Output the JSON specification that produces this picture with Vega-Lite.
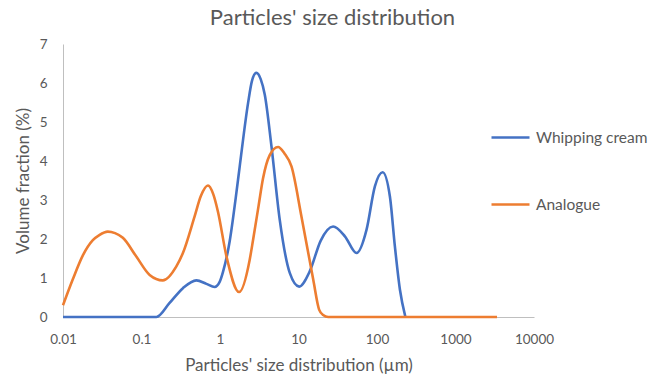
{
  "$schema": "https://vega.github.io/schema/vega-lite/v6.json",
  "autosize": "none",
  "width": 471,
  "height": 273,
  "padding": {"left": 63, "top": 44, "right": 124, "bottom": 60},
  "background": "white",
  "config": {"view": {"stroke": null}, "font": "Lato"},
  "title": {"text": "Particles' size distribution", "fontSize": 22, "fontWeight": "normal", "color": "#595959", "font": "Lato", "anchor": "middle", "frame": "group", "dx": 34, "offset": 7},
  "data": {"values": [
    {"size": 0.01, "v": 0, "s": "Whipping cream"},
    {"size": 0.02, "v": 0, "s": "Whipping cream"},
    {"size": 0.05, "v": 0, "s": "Whipping cream"},
    {"size": 0.1, "v": 0, "s": "Whipping cream"},
    {"size": 0.155, "v": 0, "s": "Whipping cream"},
    {"size": 0.228, "v": 0.36, "s": "Whipping cream"},
    {"size": 0.337, "v": 0.74, "s": "Whipping cream"},
    {"size": 0.5, "v": 0.94, "s": "Whipping cream"},
    {"size": 0.672, "v": 0.85, "s": "Whipping cream"},
    {"size": 0.855, "v": 0.77, "s": "Whipping cream"},
    {"size": 0.99, "v": 0.9, "s": "Whipping cream"},
    {"size": 1.09, "v": 1.15, "s": "Whipping cream"},
    {"size": 1.33, "v": 1.95, "s": "Whipping cream"},
    {"size": 1.585, "v": 3.05, "s": "Whipping cream"},
    {"size": 1.78, "v": 3.85, "s": "Whipping cream"},
    {"size": 2.28, "v": 5.49, "s": "Whipping cream"},
    {"size": 2.55, "v": 6.05, "s": "Whipping cream"},
    {"size": 2.91, "v": 6.26, "s": "Whipping cream"},
    {"size": 3.3, "v": 6.1, "s": "Whipping cream"},
    {"size": 3.72, "v": 5.7, "s": "Whipping cream"},
    {"size": 4.53, "v": 4.37, "s": "Whipping cream"},
    {"size": 5.77, "v": 2.49, "s": "Whipping cream"},
    {"size": 7.74, "v": 1.13, "s": "Whipping cream"},
    {"size": 10.2, "v": 0.78, "s": "Whipping cream"},
    {"size": 13.9, "v": 1.17, "s": "Whipping cream"},
    {"size": 19.2, "v": 1.96, "s": "Whipping cream"},
    {"size": 27.6, "v": 2.32, "s": "Whipping cream"},
    {"size": 39.0, "v": 2.07, "s": "Whipping cream"},
    {"size": 55.0, "v": 1.64, "s": "Whipping cream"},
    {"size": 73.6, "v": 2.24, "s": "Whipping cream"},
    {"size": 94.0, "v": 3.35, "s": "Whipping cream"},
    {"size": 118, "v": 3.71, "s": "Whipping cream"},
    {"size": 146, "v": 3.09, "s": "Whipping cream"},
    {"size": 169, "v": 1.81, "s": "Whipping cream"},
    {"size": 196, "v": 0.7, "s": "Whipping cream"},
    {"size": 230, "v": 0, "s": "Whipping cream"},
    {"size": 0.01, "v": 0.3, "s": "Analogue"},
    {"size": 0.0133, "v": 0.96, "s": "Analogue"},
    {"size": 0.0179, "v": 1.58, "s": "Analogue"},
    {"size": 0.024, "v": 1.97, "s": "Analogue"},
    {"size": 0.029, "v": 2.1, "s": "Analogue"},
    {"size": 0.0372, "v": 2.19, "s": "Analogue"},
    {"size": 0.046, "v": 2.15, "s": "Analogue"},
    {"size": 0.0579, "v": 2.03, "s": "Analogue"},
    {"size": 0.0859, "v": 1.55, "s": "Analogue"},
    {"size": 0.127, "v": 1.08, "s": "Analogue"},
    {"size": 0.187, "v": 0.94, "s": "Analogue"},
    {"size": 0.278, "v": 1.3, "s": "Analogue"},
    {"size": 0.337, "v": 1.64, "s": "Analogue"},
    {"size": 0.475, "v": 2.58, "s": "Analogue"},
    {"size": 0.57, "v": 3.1, "s": "Analogue"},
    {"size": 0.703, "v": 3.37, "s": "Analogue"},
    {"size": 0.82, "v": 3.15, "s": "Analogue"},
    {"size": 0.942, "v": 2.7, "s": "Analogue"},
    {"size": 1.21, "v": 1.55, "s": "Analogue"},
    {"size": 1.75, "v": 0.64, "s": "Analogue"},
    {"size": 2.39, "v": 1.47, "s": "Analogue"},
    {"size": 2.64, "v": 1.98, "s": "Analogue"},
    {"size": 3.1, "v": 2.85, "s": "Analogue"},
    {"size": 3.53, "v": 3.55, "s": "Analogue"},
    {"size": 4.3, "v": 4.15, "s": "Analogue"},
    {"size": 5.49, "v": 4.36, "s": "Analogue"},
    {"size": 6.6, "v": 4.2, "s": "Analogue"},
    {"size": 8.14, "v": 3.86, "s": "Analogue"},
    {"size": 10.9, "v": 2.58, "s": "Analogue"},
    {"size": 15.4, "v": 0.96, "s": "Analogue"},
    {"size": 18.3, "v": 0.19, "s": "Analogue"},
    {"size": 20.6, "v": 0.05, "s": "Analogue"},
    {"size": 23.9, "v": 0, "s": "Analogue"},
    {"size": 50, "v": 0, "s": "Analogue"},
    {"size": 200, "v": 0, "s": "Analogue"},
    {"size": 500, "v": 0, "s": "Analogue"},
    {"size": 1000, "v": 0, "s": "Analogue"},
    {"size": 3380, "v": 0, "s": "Analogue"}
  ]},
  "mark": {"type": "line", "interpolate": "monotone", "strokeWidth": 2.6},
  "encoding": {
    "x": {"field": "size", "type": "quantitative",
      "scale": {"type": "log", "domain": [0.01, 10000], "nice": false},
      "axis": {"title": "Particles' size distribution (µm)", "values": [0.01, 0.1, 1, 10, 100, 1000, 10000],
        "labelExpr": "datum.value < 1 ? format(datum.value, '.2~f') : format(datum.value, 'd')",
        "grid": false, "ticks": false, "tickSize": 0, "domainColor": "#BFBFBF", "domainWidth": 1,
        "labelColor": "#595959", "labelFontSize": 13.5, "labelPadding": 15, "labelFont": "Lato",
        "titleColor": "#595959", "titleFontSize": 17, "titleFontWeight": "normal", "titlePadding": 12, "titleFont": "Lato", "labelFlush": false}},
    "y": {"field": "v", "type": "quantitative",
      "scale": {"domain": [0, 7], "nice": false},
      "axis": {"title": "Volume fraction (%)", "values": [0, 1, 2, 3, 4, 5, 6, 7],
        "grid": false, "ticks": false, "tickSize": 0, "domainColor": "#BFBFBF", "domainWidth": 1,
        "labelColor": "#595959", "labelFontSize": 13.5, "labelPadding": 16, "labelFont": "Lato",
        "titleColor": "#595959", "titleFontSize": 17, "titleFontWeight": "normal", "titlePadding": 7, "titleFont": "Lato"}},
    "color": {"field": "s", "type": "nominal",
      "scale": {"domain": ["Whipping cream", "Analogue"], "range": ["#4472C4", "#ED7D31"]},
      "legend": {"title": null, "orient": "none", "legendX": 427, "legendY": 73,
        "symbolType": "stroke", "symbolSize": 1444, "symbolStrokeWidth": 2.6,
        "labelFontSize": 15.5, "labelColor": "#595959", "labelFont": "Lato", "rowPadding": 38, "labelOffset": 5}}
  }
}
